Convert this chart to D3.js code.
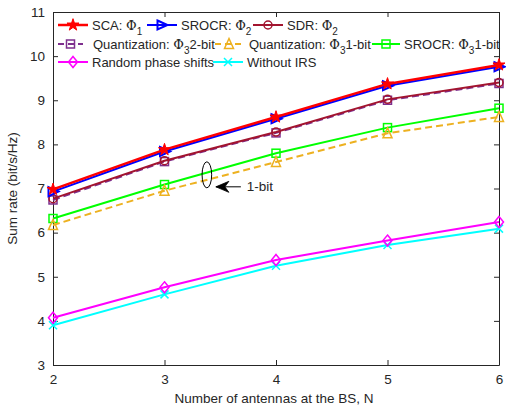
<!DOCTYPE html>
<html>
<head>
<meta charset="utf-8">
<script src="https://cdn.jsdelivr.net/npm/d3@7"></script>
<style>
  body { margin: 0; background: #fff; }
  text { font-family: "Liberation Sans", Arial, sans-serif; fill: #262626; }
</style>
</head>
<body>
<svg id="chart" width="506" height="407"></svg>
<script>
var antennas = [2, 3, 4, 5, 6];

var scaPhi1 = [6.98, 7.88, 8.62, 9.37, 9.80];
var srocrPhi2 = [6.93, 7.84, 8.58, 9.33, 9.76];
var sdrPhi2 = [6.77, 7.63, 8.28, 9.02, 9.40];
var quant2bit = [6.74, 7.61, 8.26, 9.00, 9.38];
var quant1bit = [6.17, 6.95, 7.60, 8.25, 8.62];
var srocr1bit = [6.32, 7.09, 7.80, 8.38, 8.82];
var randomPhase = [4.07, 4.76, 5.38, 5.82, 6.24];
var withoutIrs = [3.90, 4.60, 5.25, 5.72, 6.09];

var yTicks = [3, 4, 5, 6, 7, 8, 9, 10, 11];

var series = [
  { name: 'SCA: ', sub: '1', after: '', values: scaPhi1, color: '#ff0000', marker: 'star', width: 2.5 },
  { name: 'SROCR: ', sub: '2', after: '', values: srocrPhi2, color: '#0000ff', marker: 'triRight', width: 2 },
  { name: 'SDR: ', sub: '2', after: '', values: sdrPhi2, color: '#a2142f', marker: 'circle', width: 2 },
  { name: 'Quantization: ', sub: '3', after: '2-bit', values: quant2bit, color: '#7e2f8e', marker: 'square', width: 2, dash: '7,4' },
  { name: 'Quantization: ', sub: '3', after: '1-bit', values: quant1bit, color: '#edb120', marker: 'triUp', width: 2, dash: '7,4' },
  { name: 'SROCR: ', sub: '3', after: '1-bit', values: srocr1bit, color: '#00ff00', marker: 'square', width: 2 },
  { name: 'Random phase shifts', values: randomPhase, color: '#ff00ff', marker: 'diamond', width: 2 },
  { name: 'Without IRS', values: withoutIrs, color: '#00ffff', marker: 'cross', width: 2 }
];

var svg = d3.select('#chart');
var margin = { left: 53, right: 7, top: 12, bottom: 42 };
var width = 506 - margin.left - margin.right;
var height = 407 - margin.top - margin.bottom;

var x = d3.scaleLinear().domain([2, 6]).range([0, width]);
var y = d3.scaleLinear().domain([3, 11]).range([height, 0]);

var g = svg.append('g').attr('transform', 'translate(' + margin.left + ',' + margin.top + ')');

// axes, MATLAB style with inward ticks
function styleAxis(sel) {
  sel.select('.domain').attr('stroke', '#262626');
  sel.selectAll('.tick line').attr('stroke', '#262626');
  sel.selectAll('.tick text').style('font-size', '13.5px').attr('fill', '#262626');
}

g.append('g').attr('transform', 'translate(0,' + height + ')')
  .call(d3.axisBottom(x).tickValues(antennas).tickFormat(d3.format('d')).tickSizeInner(-5).tickSizeOuter(0).tickPadding(9))
  .call(styleAxis);
g.append('g')
  .call(d3.axisTop(x).tickValues(antennas).tickFormat('').tickSizeInner(-5).tickSizeOuter(0))
  .call(styleAxis);
g.append('g')
  .call(d3.axisLeft(y).tickValues(yTicks).tickSizeInner(-5).tickSizeOuter(0).tickPadding(8))
  .call(styleAxis);
g.append('g').attr('transform', 'translate(' + width + ',0)')
  .call(d3.axisRight(y).tickValues(yTicks).tickFormat('').tickSizeInner(-5).tickSizeOuter(0))
  .call(styleAxis);

svg.append('text')
  .attr('x', margin.left + width / 2 - 2).attr('y', 403)
  .attr('text-anchor', 'middle').style('font-size', '13.5px')
  .text('Number of antennas at the BS, N');

svg.append('text')
  .attr('transform', 'translate(17,' + (margin.top + height / 2) + ') rotate(-90)')
  .attr('text-anchor', 'middle').style('font-size', '13.5px')
  .text('Sum rate (bit/s/Hz)');

function drawMarker(sel, type, color) {
  var s = 4.5;
  if (type === 'star') {
    sel.append('path').attr('d', d3.symbol().type(d3.symbolStar).size(45)())
      .attr('fill', color).attr('stroke', color).attr('stroke-width', 1);
  } else if (type === 'triRight') {
    sel.append('path').attr('d', 'M' + (-s) + ',' + (-s) + 'L' + (s + 1) + ',0L' + (-s) + ',' + s + 'Z')
      .attr('fill', 'none').attr('stroke', color).attr('stroke-width', 2);
  } else if (type === 'triUp') {
    sel.append('path').attr('d', 'M0,' + (-s - 1) + 'L' + s + ',' + s + 'L' + (-s) + ',' + s + 'Z')
      .attr('fill', 'none').attr('stroke', color).attr('stroke-width', 1.5);
  } else if (type === 'circle') {
    sel.append('circle').attr('r', 4)
      .attr('fill', 'none').attr('stroke', color).attr('stroke-width', 1.5);
  } else if (type === 'square') {
    sel.append('rect').attr('x', -4).attr('y', -4).attr('width', 8).attr('height', 8)
      .attr('fill', 'none').attr('stroke', color).attr('stroke-width', 1.5);
  } else if (type === 'diamond') {
    sel.append('path').attr('d', 'M0,-5.5L4.5,0L0,5.5L-4.5,0Z')
      .attr('fill', 'none').attr('stroke', color).attr('stroke-width', 1.5);
  } else if (type === 'cross') {
    sel.append('path').attr('d', 'M-4,-4L4,4M-4,4L4,-4')
      .attr('fill', 'none').attr('stroke', color).attr('stroke-width', 1.5);
  }
}

var line = d3.line()
  .x(function (d, i) { return x(antennas[i]); })
  .y(function (d) { return y(d); });

// draw back to front so red/blue end up on top
series.slice().reverse().forEach(function (s) {
  g.append('path').datum(s.values)
    .attr('d', line)
    .attr('fill', 'none')
    .attr('stroke', s.color)
    .attr('stroke-width', s.width)
    .attr('stroke-dasharray', s.dash || null);
  s.values.forEach(function (v, i) {
    var m = g.append('g').attr('transform', 'translate(' + x(antennas[i]) + ',' + y(v) + ')');
    drawMarker(m, s.marker, s.color);
  });
});

// 1-bit annotation
var ax = x(3.38), ay = y(7.31);
g.append('ellipse').attr('cx', ax).attr('cy', ay).attr('rx', 4.8).attr('ry', 13)
  .attr('fill', 'none').attr('stroke', '#000').attr('stroke-width', 1);
g.append('path')
  .attr('d', 'M' + (ax + 34) + ',' + (ay + 12) + 'L' + (ax + 9) + ',' + (ay + 12))
  .attr('stroke', '#000').attr('stroke-width', 1).attr('fill', 'none');
g.append('path')
  .attr('d', 'M' + (ax + 22) + ',' + (ay + 6.5) + 'L' + (ax + 9) + ',' + (ay + 12) + 'L' + (ax + 22) + ',' + (ay + 17.5)
    + 'L' + (ax + 18) + ',' + (ay + 12) + 'Z')
  .attr('stroke', '#000').attr('stroke-width', 0.8).attr('fill', '#000');
g.append('text').attr('x', ax + 40).attr('y', ay + 16.5)
  .style('font-size', '13.5px').text('1-bit');

// legend (no box), three rows
var legendPos = [
  [58, 25, 30], [147, 25, 30], [253, 25, 30],
  [58, 44, 25], [215, 44, 28], [372, 44, 28],
  [58, 62, 30], [213, 62, 30]
];
var legendTextGap = [4, 4, 4, 10, 6, 4, 4, 4];

series.forEach(function (s, i) {
  var p = legendPos[i];
  var lg = svg.append('g');
  lg.append('line').attr('x1', p[0]).attr('x2', p[0] + p[2]).attr('y1', p[1]).attr('y2', p[1])
    .attr('stroke', s.color).attr('stroke-width', s.width)
    .attr('stroke-dasharray', s.dash ? '6,4' : null);
  var m = lg.append('g').attr('transform', 'translate(' + (p[0] + p[2] / 2) + ',' + p[1] + ')');
  drawMarker(m, s.marker, s.color);
  var t = lg.append('text').attr('x', p[0] + p[2] + legendTextGap[i]).attr('y', p[1] + 4.5)
    .style('font-size', '13px');
  t.append('tspan').text(s.name);
  if (s.sub) {
    t.append('tspan').text('\u03a6').style('font-family', '"DejaVu Serif", serif');
    t.append('tspan').attr('dy', 5).style('font-size', '10px').text(s.sub);
    if (s.after) t.append('tspan').attr('dy', -5).text(s.after);
  }
});
</script>
</body>
</html>
